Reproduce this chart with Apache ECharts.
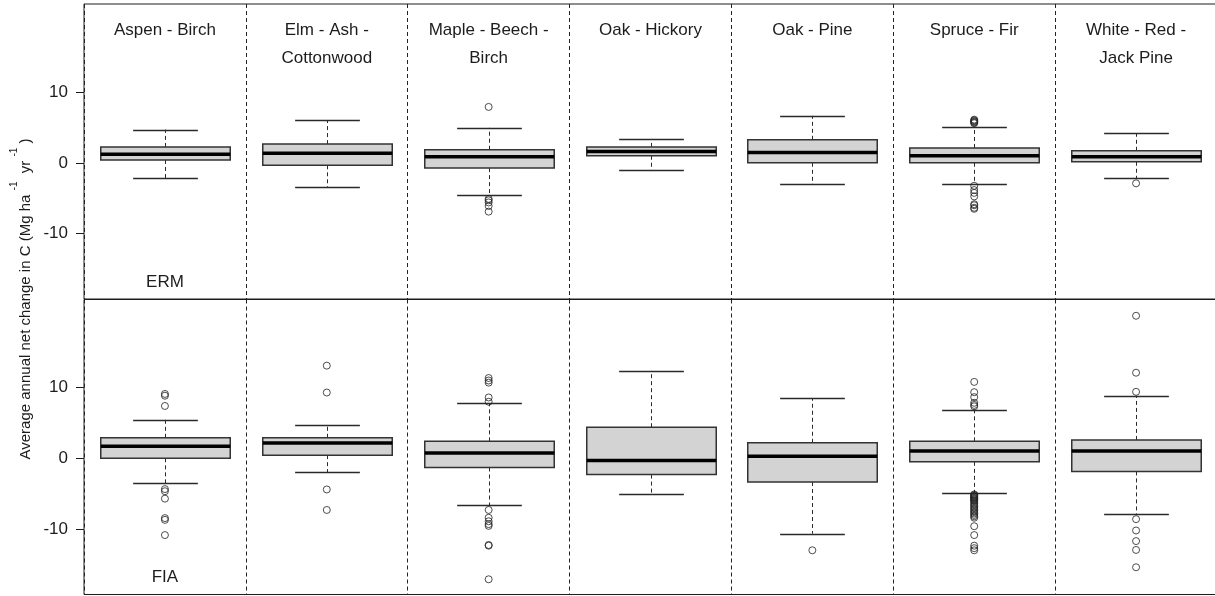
<!DOCTYPE html>
<html>
<head>
<meta charset="utf-8">
<script src="https://cdn.jsdelivr.net/npm/echarts@6/dist/echarts.min.js"></script>
<style>
  html, body { margin: 0; padding: 0; background: #fff; }
  #chart { width: 1215px; height: 596px; }
</style>
</head>
<body>
<div id="chart"></div>
<script>
// Forest type groups (one column per group)
const categories = [
  'Aspen - Birch',
  'Elm - Ash -\nCottonwood',
  'Maple - Beech -\nBirch',
  'Oak - Hickory',
  'Oak - Pine',
  'Spruce - Fir',
  'White - Red -\nJack Pine'
];

// Box statistics per group: [lower whisker, Q1, median, Q3, upper whisker]
const ermBoxes = [
  [-2.2, 0.4, 1.2, 2.25, 4.7],
  [-3.45, -0.35, 1.35, 2.65, 6.0],
  [-4.5, -0.75, 0.85, 1.85, 4.95],
  [-1.0, 1.0, 1.6, 2.25, 3.3],
  [-3.05, 0.0, 1.45, 3.25, 6.65],
  [-3.0, 0.0, 1.0, 2.1, 5.1],
  [-2.15, 0.15, 0.85, 1.7, 4.2]
];
const fiaBoxes = [
  [-3.5, 0.0, 1.7, 2.9, 5.45],
  [-1.95, 0.45, 2.15, 2.9, 4.65],
  [-6.6, -1.3, 0.75, 2.4, 7.8],
  [-5.05, -2.3, -0.3, 4.4, 12.35],
  [-10.65, -3.35, 0.3, 2.2, 8.5],
  [-4.9, -0.5, 1.05, 2.4, 6.9],
  [-7.9, -1.85, 1.05, 2.6, 8.85]
];

// Outlying plots per group
const ermOutliers = [
  [],
  [],
  [7.9, -5.1, -5.3, -5.6, -6.1, -6.9],
  [],
  [],
  [5.6, 5.7, 5.8, 5.9, 6.0, 6.1, -3.25, -3.85, -4.25, -4.75, -5.85, -6.0, -6.35, -6.5],
  [-2.9]
];
const fiaOutliers = [
  [9.1, 8.85, 7.4, -4.35, -4.65, -5.7, -8.45, -8.7, -10.85],
  [13.1, 9.3, -4.4, -7.3],
  [11.35, 11.0, 10.7, 8.6, 8.0, -7.3, -8.4, -8.9, -9.3, -9.55, -12.25, -12.35, -17.1],
  [],
  [-13.0],
  [10.8, 9.35, 8.65, 7.85, 7.55, 7.35, -5.1, -5.2, -5.3, -5.4, -5.5, -5.6, -5.7, -5.8,
   -5.9, -6.0, -6.2, -6.4, -6.6, -6.8, -7.0, -7.2, -7.4, -7.6, -7.8, -8.0, -8.2, -8.4,
   -9.6, -10.85, -12.35, -12.7, -13.0],
  [20.15, 12.1, 9.4, -8.6, -10.2, -11.7, -12.95, -15.4]
];

const yTicks = [-10, 0, 10];
const rowLabels = ['ERM', 'FIA'];

const FONT = '"Liberation Sans", Arial, Helvetica, sans-serif';
const INK = '#1c1c1c';

function crisp(v) { return Math.round(v) + 0.5; }

// Box, whiskers and median drawn through the axis scales
function renderBox(params, api) {
  const idx = api.value(0);
  const pLow = api.coord([idx, api.value(1)]);
  const pQ1 = api.coord([idx, api.value(2)]);
  const pMed = api.coord([idx, api.value(3)]);
  const pQ3 = api.coord([idx, api.value(4)]);
  const pHigh = api.coord([idx, api.value(5)]);
  const band = api.size([1, 0])[0];
  const cx = crisp(pMed[0]);
  const bw = band * 0.8;
  const cw = band * 0.4;
  const whisk = { stroke: '#2a2a2a', lineWidth: 1, lineDash: [4, 3] };
  const solid = { stroke: '#2a2a2a', lineWidth: 1.3 };
  return {
    type: 'group',
    children: [
      { type: 'line', shape: { x1: cx, y1: pQ3[1], x2: cx, y2: pHigh[1] }, style: whisk },
      { type: 'line', shape: { x1: cx, y1: pQ1[1], x2: cx, y2: pLow[1] }, style: whisk },
      { type: 'line', shape: { x1: cx - cw / 2, y1: crisp(pHigh[1]), x2: cx + cw / 2, y2: crisp(pHigh[1]) }, style: solid },
      { type: 'line', shape: { x1: cx - cw / 2, y1: crisp(pLow[1]), x2: cx + cw / 2, y2: crisp(pLow[1]) }, style: solid },
      {
        type: 'rect',
        shape: { x: cx - bw / 2, y: pQ3[1], width: bw, height: pQ1[1] - pQ3[1] },
        style: { fill: '#d3d3d3', stroke: '#333', lineWidth: 1.5 }
      },
      { type: 'line', shape: { x1: cx - bw / 2, y1: pMed[1], x2: cx + bw / 2, y2: pMed[1] }, style: { stroke: '#000', lineWidth: 3.5 } }
    ]
  };
}

function boxData(boxes) { return boxes.map((b, i) => [i].concat(b)); }
function outlierData(lists) {
  const out = [];
  lists.forEach((arr, i) => arr.forEach(v => out.push([i, v])));
  return out;
}

const yRange = { min: -19.25, max: 22.45 };
function yAxisFor(gridIndex) {
  return {
    type: 'value', gridIndex: gridIndex, min: yRange.min, max: yRange.max,
    axisLine: { show: false },
    axisTick: { show: true, customValues: yTicks, length: 8, lineStyle: { color: INK, width: 1 } },
    axisLabel: { show: true, customValues: yTicks, fontSize: 17, color: INK, fontFamily: FONT, margin: 16 },
    splitLine: { show: false }
  };
}
const sep = { show: true, interval: 0, lineStyle: { color: '#222', width: 1, type: [4, 3] } };

// The plotting region runs a few pixels past the right edge of the canvas
const plotLeft = 84;
const plotWidth = 1133;

const chart = echarts.init(document.getElementById('chart'), null, { renderer: 'canvas' });
const option = {
  animation: false,
  backgroundColor: '#fff',
  grid: [
    { left: plotLeft, width: plotWidth, top: 4, height: 295, outerBoundsMode: 'none', containLabel: false,
      show: true, borderColor: INK, borderWidth: 1, backgroundColor: 'transparent' },
    { left: plotLeft, width: plotWidth, top: 299.5, height: 295, outerBoundsMode: 'none', containLabel: false,
      show: true, borderColor: INK, borderWidth: 1, backgroundColor: 'transparent' }
  ],
  xAxis: [
    {
      type: 'category', gridIndex: 0, data: categories, position: 'top',
      axisLine: { show: false }, axisTick: { show: false },
      axisLabel: { show: true, inside: true, interval: 0, margin: 12, fontSize: 17, lineHeight: 28, color: INK, fontFamily: FONT, verticalAlign: 'top' },
      splitLine: sep
    },
    {
      type: 'category', gridIndex: 1, data: categories,
      axisLine: { show: false }, axisTick: { show: false }, axisLabel: { show: false },
      splitLine: sep
    }
  ],
  yAxis: [yAxisFor(0), yAxisFor(1)],
  series: [
    { type: 'custom', xAxisIndex: 0, yAxisIndex: 0, renderItem: renderBox, data: boxData(ermBoxes),
      encode: { x: 0, y: [1, 2, 3, 4, 5] }, z: 2 },
    { type: 'custom', xAxisIndex: 1, yAxisIndex: 1, renderItem: renderBox, data: boxData(fiaBoxes),
      encode: { x: 0, y: [1, 2, 3, 4, 5] }, z: 2 },
    { type: 'scatter', xAxisIndex: 0, yAxisIndex: 0, data: outlierData(ermOutliers), symbol: 'circle', symbolSize: 7,
      itemStyle: { color: 'rgba(0,0,0,0)', borderColor: '#222', borderWidth: 1 }, z: 3 },
    { type: 'scatter', xAxisIndex: 1, yAxisIndex: 1, data: outlierData(fiaOutliers), symbol: 'circle', symbolSize: 7,
      itemStyle: { color: 'rgba(0,0,0,0)', borderColor: '#222', borderWidth: 1 }, z: 3 }
  ]
};
chart.setOption(option);

// Row labels under the first column, and the shared y-axis title
const firstX = chart.convertToPixel({ xAxisIndex: 0 }, 0);
chart.setOption({
  graphic: [
    { type: 'text', x: firstX, y: 282, style: { text: rowLabels[0], font: '17px ' + FONT, fill: INK, textAlign: 'center', textVerticalAlign: 'middle' } },
    { type: 'text', x: firstX, y: 577, style: { text: rowLabels[1], font: '17px ' + FONT, fill: INK, textAlign: 'center', textVerticalAlign: 'middle' } },
    {
      type: 'text', x: 21, y: 299, rotation: Math.PI / 2,
      style: {
        text: '{t|Average annual net change in C (Mg ha }{s|-1}{t|  yr }{s|-1}{t| )}',
        textAlign: 'center', textVerticalAlign: 'middle', fill: INK,
        rich: {
          t: { fontSize: 15, fontFamily: FONT, lineHeight: 24, fill: INK, verticalAlign: 'bottom' },
          s: { fontSize: 10, fontFamily: FONT, lineHeight: 12, fill: INK, verticalAlign: 'top' }
        }
      }
    }
  ]
});
</script>
</body>
</html>
